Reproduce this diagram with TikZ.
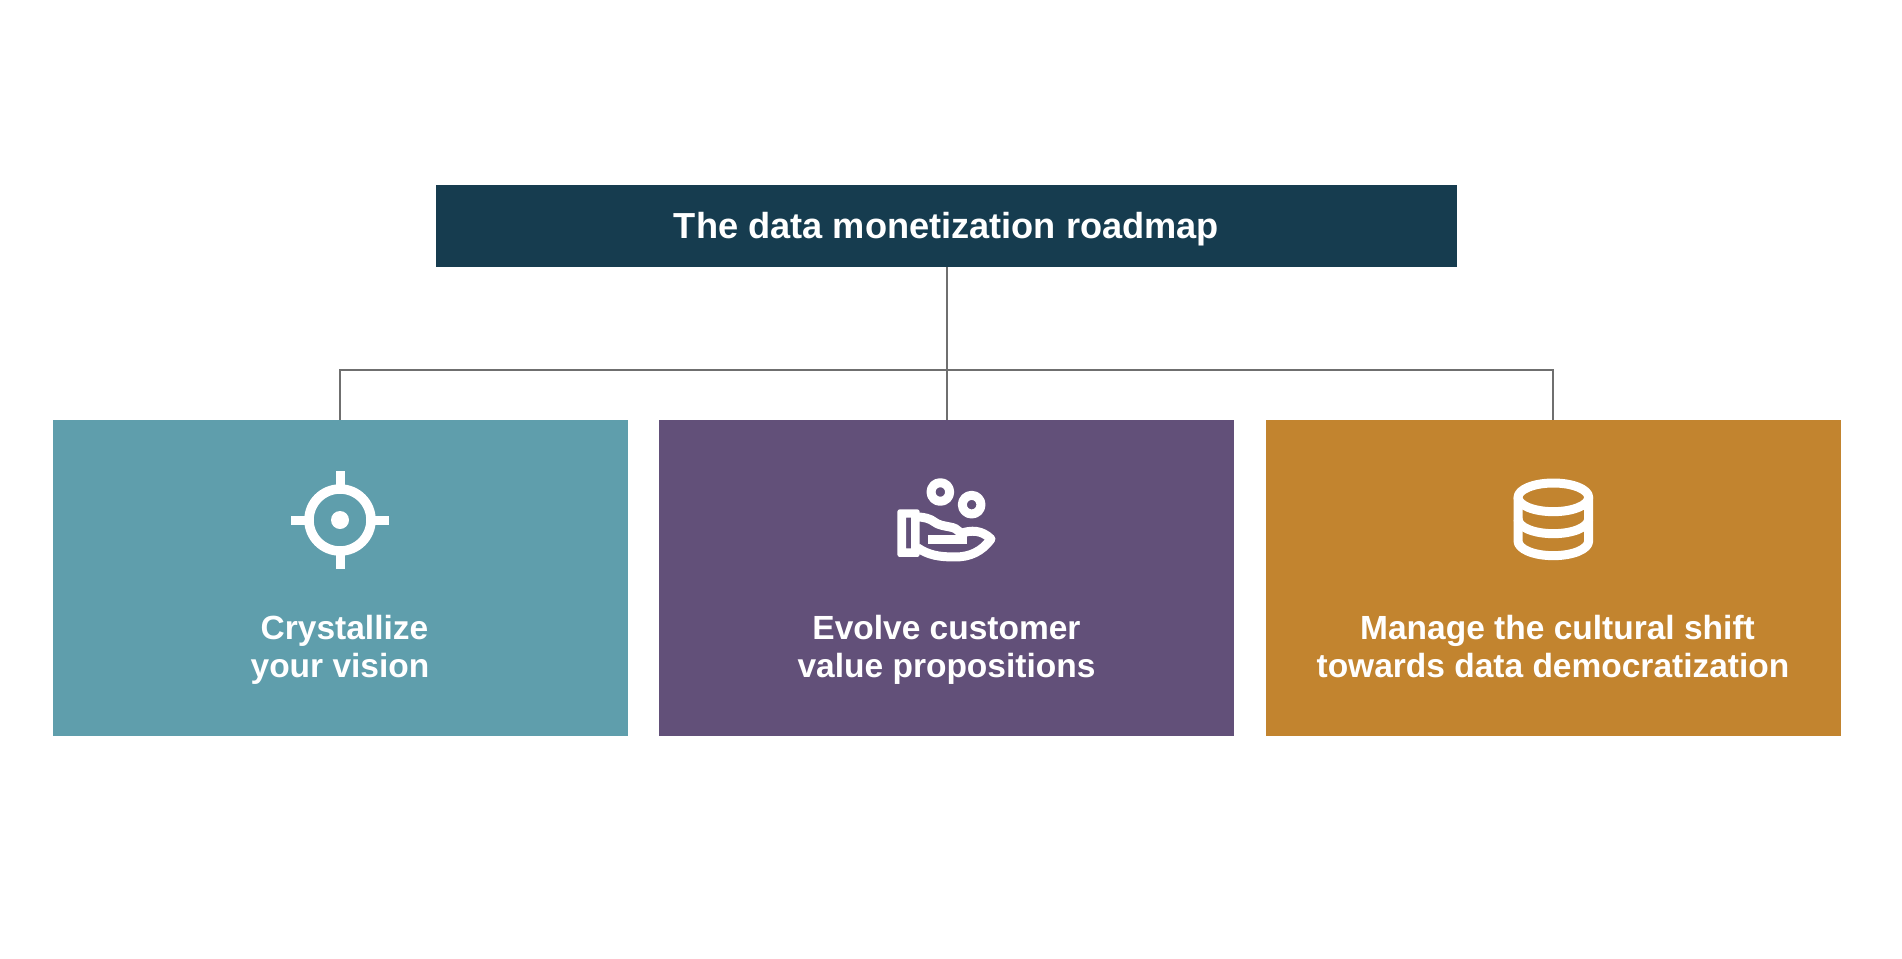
\documentclass[tikz,border=0pt]{standalone}
\usepackage{fontspec}
\setmainfont{Liberation Sans}[BoldFont={Liberation Sans Bold}]
\definecolor{navy}{HTML}{163C4F}
\definecolor{teal2}{HTML}{5F9EAC}
\definecolor{plum}{HTML}{625079}
\definecolor{ochre}{HTML}{C2842F}
\definecolor{wire}{HTML}{6F6F6F}
\tikzset{
  card/.style={draw=none,fill=#1,minimum width=575pt,minimum height=316pt,inner sep=0pt,outer sep=0pt,anchor=north west},
  headbox/.style={fill=navy,minimum width=1021pt,minimum height=82pt,inner sep=0pt,outer sep=0pt,anchor=north west},
  wirest/.style={draw=wire,line width=2pt},
  iconst/.style={draw=white,line width=9pt,line join=round,fill=none},
  lab/.style={text=white,font=\fontsize{33.5}{38}\selectfont\bfseries,align=center,inner sep=0pt,text height=25pt,text depth=7pt},
  titlelab/.style={lab,font=\fontsize{36.2}{38}\selectfont\bfseries},
}
\begin{document}
\begin{tikzpicture}[x=1pt,y=-1pt]
\useasboundingbox (0,0) rectangle (1902,958);
\fill[white] (0,0) rectangle (1902,958);
\node[headbox] (head) at (436,185) {};
\node[card=teal2] (a) at (52.5,420) {};
\node[card=plum] (b) at (659,420) {};
\node[card=ochre] (c) at (1265.5,420) {};
\coordinate (hub) at (946.5,369.5);
\draw[wirest] (head.south) -- (b.north);
\draw[wirest] (a.north) |- (hub) -| (c.north);
\node[titlelab] (t0) at (946.5,229) {The data monetization roadmap};
\node[lab] (t1) at (340,668) {\hspace*{9pt}Crystallize\\your vision};
\node[lab] (t2) at (946.5,668) {Evolve customer\\value propositions};
\node[lab] (t3) at (1553,668) {\hspace*{9pt}Manage the cultural shift\\towards data democratization};
% target icon
\begin{scope}[shift={(340,520)}]
\draw[iconst,line width=9.5pt] (0,0) circle (31);
\fill[white] (0,0) circle (9);
\fill[white] (-49,-4.5) rectangle (-33,4.5);
\fill[white] (33,-4.5) rectangle (49,4.5);
\fill[white] (-4.5,-49) rectangle (4.5,-33);
\fill[white] (-4.5,33) rectangle (4.5,49);
\end{scope}
% hand icon (traced in zoom units of 1/3 px)
\begin{scope}[shift={(880,465)},x=0.3333pt,y=-0.3333pt]
\draw[iconst] (181,81) circle (28);
\draw[iconst] (275,119) circle (28);
\fill[white,even odd rule,rounded corners=2.5pt] (52,133) rectangle (119,276)
  [sharp corners] (78,158) rectangle (93,250);
\draw[iconst] (112,156) .. controls (130,156) and (150,160) .. (165,172)
  .. controls (175,180) and (190,182) .. (210,186)
  .. controls (235,190) and (245,205) .. (245,222);
\draw[iconst,line join=miter] (145,223) -- (262,223);
\draw[iconst] (240,206) .. controls (275,194) and (305,195) .. (333,222)
  .. controls (305,260) and (270,276) .. (225,276)
  .. controls (175,276) and (145,270) .. (112,248);
\end{scope}
% database icon
\begin{scope}[shift={(1495,465)},x=0.3333pt,y=-0.3333pt]
\draw[iconst] (175,97) ellipse [x radius=106,y radius=43];
\draw[iconst] (69,97) -- (69,228) .. controls (69,252) and (115,272) .. (175,272)
  .. controls (235,272) and (281,252) .. (281,228) -- (281,97);
\draw[iconst] (69,162) .. controls (69,186) and (115,206) .. (175,206)
  .. controls (235,206) and (281,186) .. (281,162);
\end{scope}
\end{tikzpicture}
\end{document}
